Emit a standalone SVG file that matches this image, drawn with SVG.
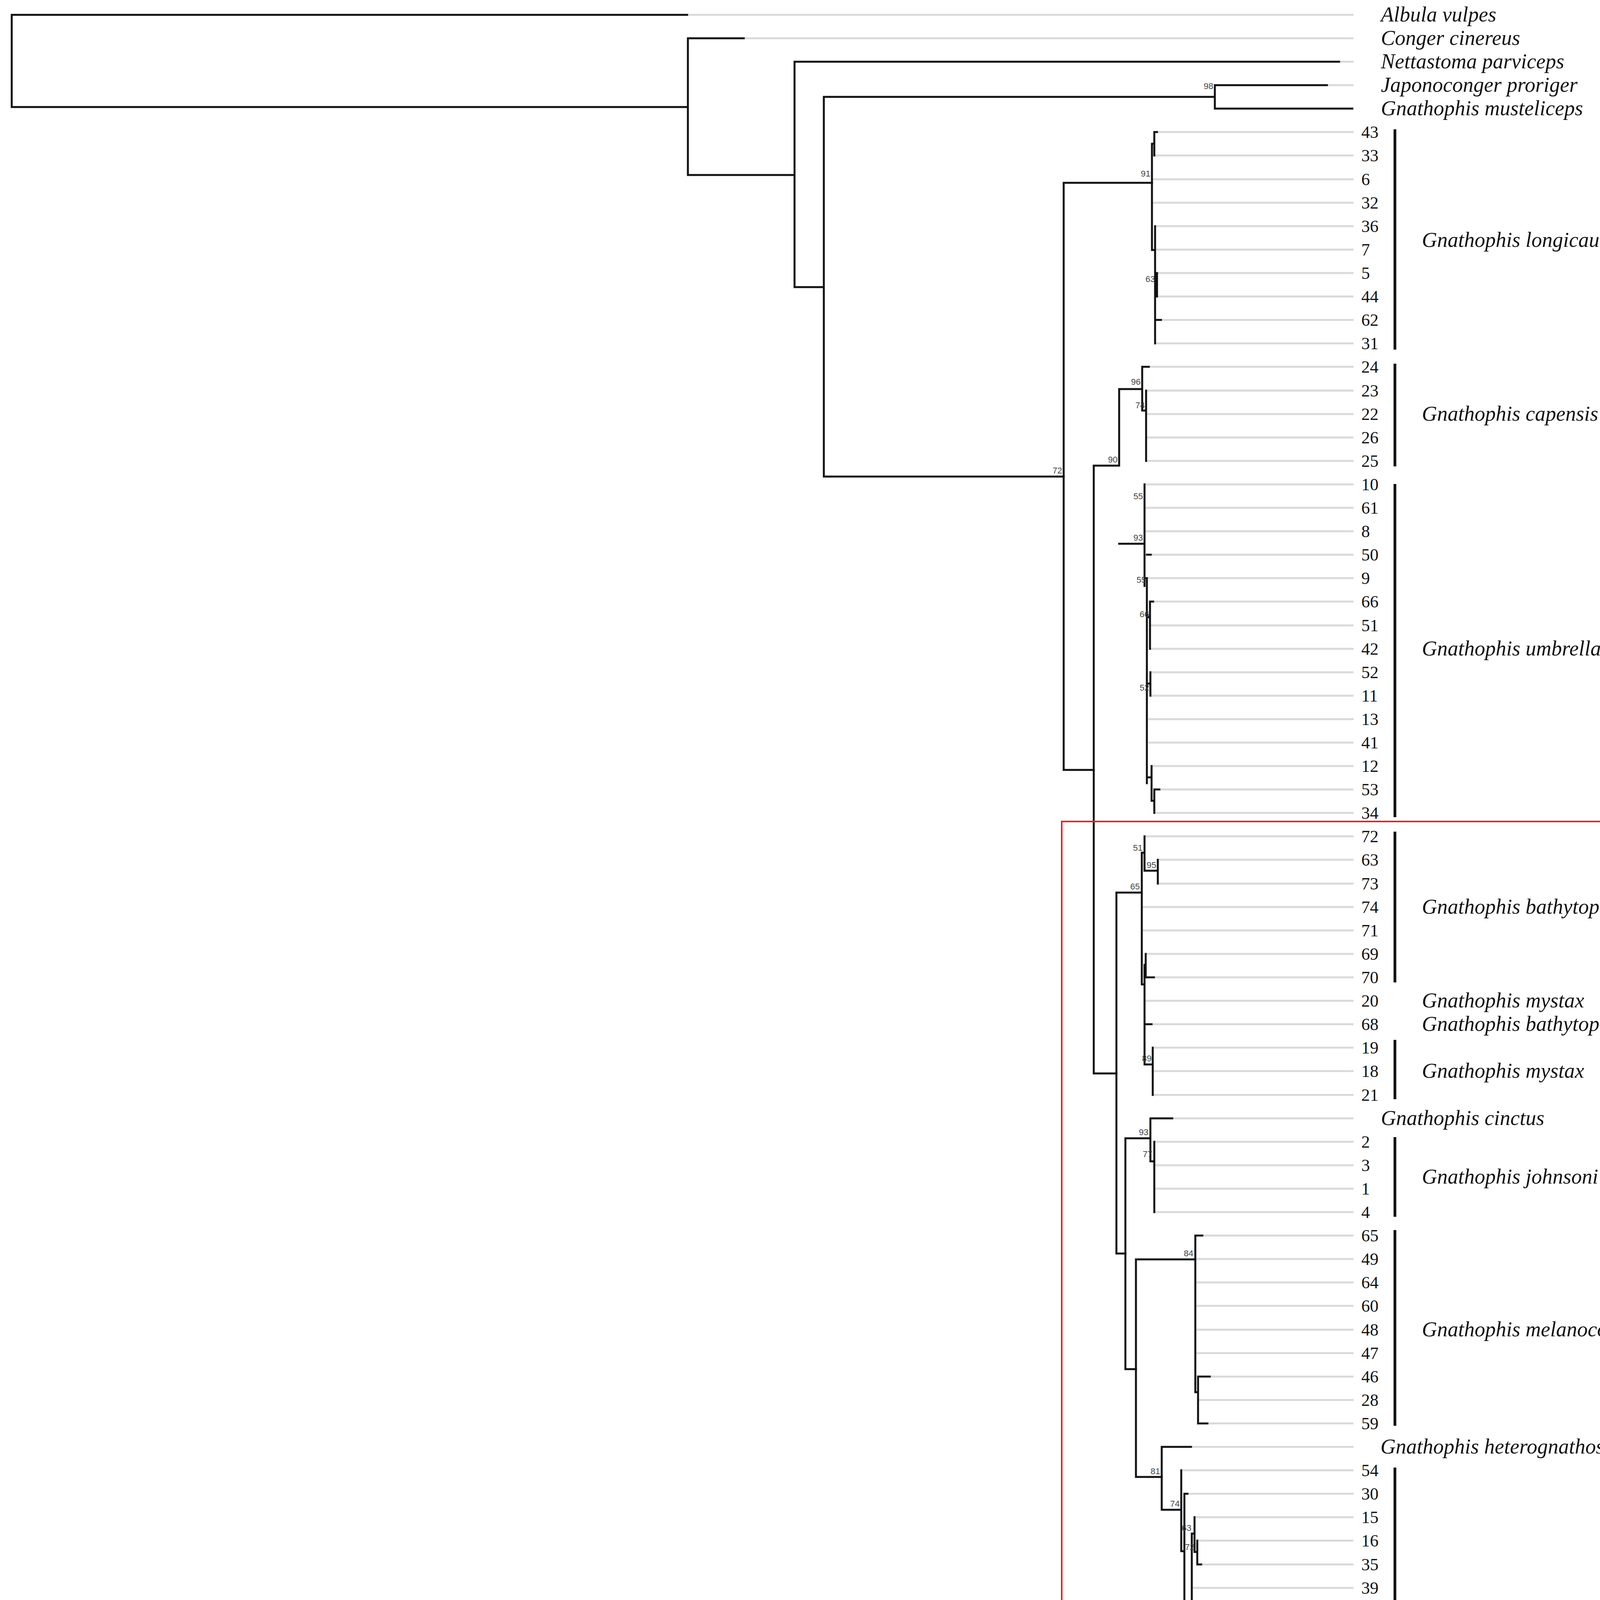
<svg xmlns="http://www.w3.org/2000/svg" width="4366" height="4793" viewBox="0 0 4366 4793">
<style>
.g{stroke:#d9d9d9;stroke-width:5;fill:none}
.b{stroke:#111;stroke-width:5;fill:none;stroke-linecap:square}
.bar{stroke:#111;stroke-width:7}
.n{font-family:"Liberation Serif",serif;font-size:44px;fill:#111}
.sp{font-family:"Liberation Serif",serif;font-size:54px;font-style:italic;fill:#111}
.bs{font-family:"Liberation Sans",sans-serif;font-size:22px;fill:#444;text-anchor:end}
</style>
<rect width="4366" height="4793" fill="#fff"/>
<g id="tips-gray">
<path class="g" d="M1759,38H3465M1904,98H3465M3428,158H3465M3397,218H3465"/>
<path class="g" d="M2955,338H3465M2955,398H3465M2949,459H3465M2949,519H3465M2957,579H3465M2957,639H3465M2962,699H3465M2962,759H3465M2957,819H3465M2957,879H3465"/>
<path class="g" d="M2941,939H3465M2934,1000H3465M2934,1060H3465M2934,1120H3465M2934,1180H3465"/>
<path class="g" d="M2930,1240H3465M2930,1300H3465M2930,1360H3465M2946,1420H3465M2936,1480H3465M2952,1540H3465M2944,1601H3465M2944,1661H3465M2945,1721H3465M2945,1781H3465M2940,1841H3465M2940,1901H3465M2948,1961H3465M2968,2021H3465M2955,2081H3465"/>
<path class="g" d="M2930,2141H3465M2964,2201H3465M2964,2262H3465M2923,2322H3465M2923,2382H3465M2933,2442H3465M2954,2502H3465M2930,2562H3465M2948,2622H3465M2951,2682H3465M2951,2742H3465M2951,2803H3465"/>
<path class="g" d="M3001,2863H3465M2955,2923H3465M2955,2983H3465M2955,3043H3465M2955,3103H3465"/>
<path class="g" d="M3078,3163H3465M3060,3223H3465M3060,3283H3465M3060,3343H3465M3060,3404H3465M3060,3464H3465M3097,3524H3465M3067,3584H3465M3091,3644H3465"/>
<path class="g" d="M3049,3704H3465M3024,3764H3465M3040,3824H3465M3058,3884H3465M3065,3944H3465M3075,4005H3465M3051,4065H3465M3060,4125H3465M3075,4185H3465M3058,4245H3465M3058,4305H3465M3056,4365H3465M3056,4425H3465M3056,4485H3465M3065,4546H3465M3065,4606H3465M3065,4666H3465"/>
</g>
<g id="connectors">
<path class="b" d="M1759,38H30V274H1761M1904,98H1761V448H2034M3428,158H2034V735H2109M2109,248V1220H2723M2109,248H3110M3397,218H3110V278H3462"/>
<path class="b" d="M2723,468V1971H2800M2723,468H2949"/>
<path class="b" d="M2962,338H2955V398M2955,368H2949V640H2957M2957,579V879M2957,729H2962M2962,699V759M2957,819H2972"/>
<path class="b" d="M2800,1192V2748H2858M2800,1192H2865V996H2924V939H2941M2924,996V1051H2934M2934,1000V1180M2865,1392V1392H2930M2930,1240V1500M2930,1480H2936V2005M2936,1420H2946M2936,1580H2944M2944,1540V1661M2944,1540H2952M2936,1750H2945M2945,1721V1781M2936,1990H2948M2948,1961V2050H2955M2955,2021V2081M2955,2021H2968"/>
<path class="b" d="M2858,2285V3209H2881M2858,2285H2923M2923,2183V2520H2930M2923,2183H2930M2930,2141V2229H2964M2964,2201V2262M2930,2470V2725M2930,2470H2933M2933,2442V2502H2954M2930,2622H2948M2930,2725H2951M2951,2682V2803"/>
<path class="b" d="M2881,2914V3505H2908M2881,2914H2945M2945,2863V2973H2955M2945,2863H3001M2955,2923V3103"/>
<path class="b" d="M2908,3224V3781H2974M2908,3224H3060M3060,3163V3564H3067M3060,3163H3078M3067,3524V3644M3067,3524H3097M3067,3644H3091"/>
<path class="b" d="M2974,3704V3865H3024M2974,3704H3049M3024,3764V3971H3032M3032,3824V4120H3051M3032,3824H3040M3051,3926V4590M3051,3926H3058M3058,3884V3973H3065M3065,3944V4005H3075M3051,4125H3060M3051,4245H3058M3058,4185V4305M3058,4185H3075M3051,4365H3056V4590M3056,4590H3065M3065,4546V4666"/>
</g>
<g id="bootstrap">
<text class="bs" x="3106" y="228">98</text>
<text class="bs" x="2945" y="452">91</text>
<text class="bs" x="2957" y="722">63</text>
<text class="bs" x="2719" y="1212">72</text>
<text class="bs" x="2920" y="985">96</text>
<text class="bs" x="2931" y="1045">74</text>
<text class="bs" x="2861" y="1184">90</text>
<text class="bs" x="2926" y="1278">55</text>
<text class="bs" x="2926" y="1384">93</text>
<text class="bs" x="2934" y="1492">55</text>
<text class="bs" x="2942" y="1580">66</text>
<text class="bs" x="2942" y="1768">52</text>
<text class="bs" x="2925" y="2178">51</text>
<text class="bs" x="2960" y="2222">95</text>
<text class="bs" x="2918" y="2277">65</text>
<text class="bs" x="2948" y="2717">89</text>
<text class="bs" x="2940" y="2906">93</text>
<text class="bs" x="2950" y="2962">77</text>
<text class="bs" x="3055" y="3216">84</text>
<text class="bs" x="2970" y="3774">81</text>
<text class="bs" x="3020" y="3857">74</text>
<text class="bs" x="3050" y="3919">63</text>
<text class="bs" x="3058" y="3968">72</text>
<text class="bs" x="3046" y="4111">75</text>
<text class="bs" x="3052" y="4222">52</text>
<text class="bs" x="3052" y="4493">56</text>
<text class="bs" x="3060" y="4586">58</text>
</g>
<g id="tip-labels">
<text class="sp" x="3535" y="55">Albula vulpes</text>
<text class="sp" x="3535" y="115">Conger cinereus</text>
<text class="sp" x="3535" y="175">Nettastoma parviceps</text>
<text class="sp" x="3535" y="235">Japonoconger proriger</text>
<text class="sp" x="3535" y="295">Gnathophis musteliceps</text>
<text class="sp" x="3535" y="2880">Gnathophis cinctus</text>
<text class="sp" x="3534" y="3721">Gnathophis heterognathos</text>
<g class="n">
<text x="3485" y="353">43</text><text x="3485" y="413">33</text><text x="3485" y="474">6</text><text x="3485" y="534">32</text><text x="3485" y="594">36</text><text x="3485" y="654">7</text><text x="3485" y="714">5</text><text x="3485" y="774">44</text><text x="3485" y="834">62</text><text x="3485" y="894">31</text>
<text x="3485" y="954">24</text><text x="3485" y="1015">23</text><text x="3485" y="1075">22</text><text x="3485" y="1135">26</text><text x="3485" y="1195">25</text>
<text x="3485" y="1255">10</text><text x="3485" y="1315">61</text><text x="3485" y="1375">8</text><text x="3485" y="1435">50</text><text x="3485" y="1495">9</text><text x="3485" y="1555">66</text><text x="3485" y="1616">51</text><text x="3485" y="1676">42</text><text x="3485" y="1736">52</text><text x="3485" y="1796">11</text><text x="3485" y="1856">13</text><text x="3485" y="1916">41</text><text x="3485" y="1976">12</text><text x="3485" y="2036">53</text><text x="3485" y="2096">34</text>
<text x="3485" y="2156">72</text><text x="3485" y="2216">63</text><text x="3485" y="2277">73</text><text x="3485" y="2337">74</text><text x="3485" y="2397">71</text><text x="3485" y="2457">69</text><text x="3485" y="2517">70</text><text x="3485" y="2577">20</text><text x="3485" y="2637">68</text><text x="3485" y="2697">19</text><text x="3485" y="2757">18</text><text x="3485" y="2818">21</text>
<text x="3485" y="2938">2</text><text x="3485" y="2998">3</text><text x="3485" y="3058">1</text><text x="3485" y="3118">4</text>
<text x="3485" y="3178">65</text><text x="3485" y="3238">49</text><text x="3485" y="3298">64</text><text x="3485" y="3358">60</text><text x="3485" y="3419">48</text><text x="3485" y="3479">47</text><text x="3485" y="3539">46</text><text x="3485" y="3599">28</text><text x="3485" y="3659">59</text>
<text x="3485" y="3779">54</text><text x="3485" y="3839">30</text><text x="3485" y="3899">15</text><text x="3485" y="3959">16</text><text x="3485" y="4020">35</text><text x="3485" y="4080">39</text><text x="3485" y="4140">40</text><text x="3485" y="4200">29</text><text x="3485" y="4260">45</text><text x="3485" y="4320">55</text><text x="3485" y="4380">37</text><text x="3485" y="4440">38</text><text x="3485" y="4500">56</text><text x="3485" y="4561">14</text><text x="3485" y="4621">57</text><text x="3485" y="4681">58</text>
</g>
</g>
<g id="clades">
<line class="bar" x1="3571" y1="331" x2="3571" y2="895"/>
<text class="sp" x="3640" y="632">Gnathophis longicauda</text>
<line class="bar" x1="3571" y1="931" x2="3571" y2="1194"/>
<text class="sp" x="3640" y="1077">Gnathophis capensis</text>
<line class="bar" x1="3571" y1="1239" x2="3571" y2="2092"/>
<text class="sp" x="3640" y="1678">Gnathophis umbrellabius</text>
<line class="bar" x1="3571" y1="2129" x2="3571" y2="2515"/>
<text class="sp" x="3640" y="2339">Gnathophis bathytopos</text>
<text class="sp" x="3640" y="2579">Gnathophis mystax</text>
<text class="sp" x="3640" y="2639">Gnathophis bathytopos</text>
<line class="bar" x1="3571" y1="2662" x2="3571" y2="2814"/>
<text class="sp" x="3640" y="2759">Gnathophis mystax</text>
<line class="bar" x1="3571" y1="2911" x2="3571" y2="3115"/>
<text class="sp" x="3640" y="3030">Gnathophis johnsoni<tspan font-style="normal"> sp. nov.</tspan></text>
<line class="bar" x1="3571" y1="3149" x2="3571" y2="3650"/>
<text class="sp" x="3640" y="3421">Gnathophis melanocoelus</text>
<line class="bar" x1="3571" y1="3757" x2="3571" y2="4681"/>
<text class="sp" x="3640" y="4232">Gnathophis grahami</text>
</g>
<g id="highlight">
<rect x="2718" y="2103" width="1587" height="2617" fill="none" stroke="#e8202a" stroke-width="4"/>
</g>
<g id="scale">
<line x1="1543" y1="4704" x2="1901" y2="4704" stroke="#444" stroke-width="4"/>
<text x="1722" y="4752" font-family="Liberation Sans, sans-serif" font-size="32" fill="#111" text-anchor="middle">0.1</text>
</g>
</svg>
